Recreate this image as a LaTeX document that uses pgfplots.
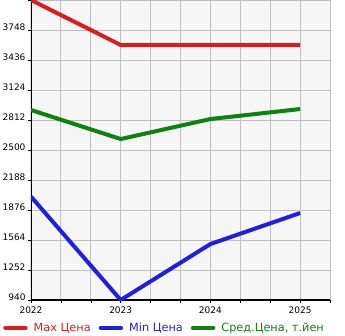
\documentclass[border=0pt]{standalone}
\usepackage{pgfplots}
\pgfplotsset{compat=1.18}
\usepackage{fontspec}
\setmainfont{DejaVu Sans}
\definecolor{cmax}{HTML}{D42020}
\definecolor{cmin}{HTML}{2020D8}
\definecolor{cavg}{HTML}{108010}
\definecolor{bgc}{HTML}{F6F6F6}
\definecolor{gridc}{HTML}{C0C0C0}
\begin{document}
\begin{tikzpicture}
\begin{axis}[
  at={(0pt,0pt)}, anchor=south west,
  scale only axis,
  width=299pt, height=300pt,
  xmin=2022, xmax=2025.333, ymin=940, ymax=4060,
  xtick={2022,2023,2024,2025},
  minor xtick={2022.333,2022.667,2023.333,2023.667,2024.333,2024.667,2025.333},
  ytick={940,1252,1564,1876,2188,2500,2812,3124,3436,3748},
  minor ytick={4060},
  xticklabel style={/pgf/number format/1000 sep={}},
  yticklabel style={/pgf/number format/1000 sep={}, yshift=3pt, xshift=1pt},
  /pgf/number format/assume math mode=true,
  tick label style={font=\fontsize{9}{10}\selectfont},
  grid=both,
  major grid style={gridc, line width=0.8pt},
  minor grid style={gridc, line width=0.8pt},
  axis background/.style={fill=bgc},
  axis line style={gridc, line width=0.8pt},
  axis x line*=bottom, axis y line*=left,
  tick style={black, line width=0.6pt},
  tick align=outside,
  major tick length=3pt, minor tick length=3pt,
  legend style={at={(-0.093,-0.093)}, anchor=west, draw=none, fill=none,
    legend columns=3, font=\fontsize{11.3}{13}\selectfont,
    inner sep=0pt, outer sep=0pt,
    nodes={inner sep=1pt},
    /tikz/every odd column/.append style={column sep=5pt},
    /tikz/every even column/.append style={column sep=7pt}},
  legend image code/.code={\draw[line width=4.5pt, line cap=round] (0pt,0pt) -- (20pt,0pt);},
  clip=true,
]
\draw[gridc, line width=0.8pt] (rel axis cs:0,1) -- (rel axis cs:1,1) -- (rel axis cs:1,0);
\draw[black, line width=1.8pt] (rel axis cs:0,1) -- (rel axis cs:0,0) -- (rel axis cs:1,0);
\addplot[cmax, line width=4pt] coordinates {(2022,4060) (2023,3592) (2024,3592) (2025,3592)};
\addlegendentry{\textcolor{cmax}{Max Цена}}
\addplot[cmin, line width=4pt] coordinates {(2022,2015) (2023,940) (2024,1522) (2025,1845)};
\addlegendentry{\textcolor{cmin}{Min Цена}}
\addplot[cavg, line width=4pt] coordinates {(2022,2916) (2023,2614) (2024,2822) (2025,2926)};
\addlegendentry{\textcolor{cavg}{Сред.Цена, т.йен}}
\end{axis}
\pgfresetboundingbox
\path (-31pt,-35pt) rectangle (314pt,300pt);
\end{tikzpicture}
\end{document}
